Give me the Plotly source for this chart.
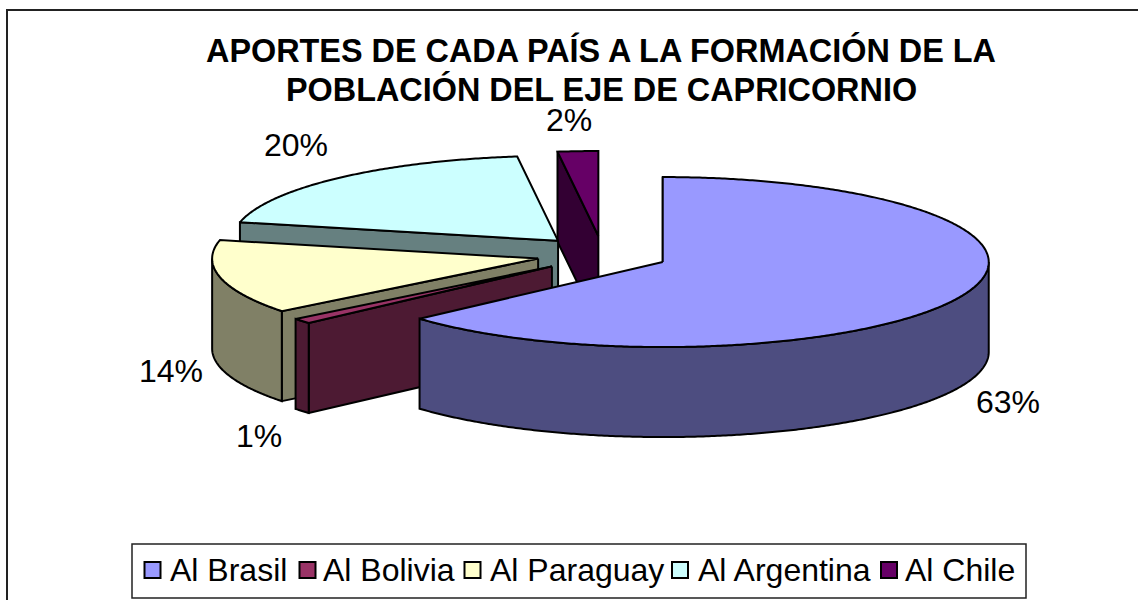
import numpy as np
import plotly.graph_objects as go

title_lines = ["APORTES DE CADA PAÍS A LA FORMACIÓN DE LA", "POBLACIÓN DEL EJE DE CAPRICORNIO"]
categories = ["Al Brasil", "Al Bolivia", "Al Paraguay", "Al Argentina", "Al Chile"]
shares = [63.4, 1.0, 14.1, 19.5, 2.0]
share_labels = ["63%", "1%", "14%", "20%", "2%"]

top_colors = ["#9999FF", "#993366", "#FFFFCC", "#CCFFFF", "#660066"]
wall_colors = ["#4D4D80", "#4D1A33", "#808066", "#668080", "#330033"]

# layout of the 3-D projection (screen pixels)
CX, CY = 602.5, 254.5
RX, RY = 326, 85
DEPTH = 90
EXPLODE_X, EXPLODE_Y = 66, 18.5
LW = 2

label_x = [1008, 259, 171, 296, 569]
label_y = [405, 439, 374, 148, 123]
legend_swatch_x = [152.5, 307.5, 472.5, 680, 889]
legend_text_x = [170, 323, 490, 698, 905]
LEGEND_Y = 570
FS = 32
TITLE_FS = 32.4
title_y = [50, 89]
TITLE_X = 601


def arc(a0, a1, ox, oy, dz=0.0):
    t = np.radians(np.linspace(a0, a1, max(2, int(abs(a1 - a0) * 2) + 2)))
    return ox + RX * np.sin(t), oy - RY * np.cos(t) + dz


def poly(fig, x, y, color, name):
    fig.add_trace(go.Scatter(
        x=list(x) + [x[0]], y=list(y) + [y[0]], mode="lines", fill="toself",
        fillcolor=color, line=dict(color="black", width=LW, simplify=False),
        name=name, showlegend=False, hoverinfo="skip"))


fig = go.Figure()

edges = np.concatenate([[0], np.cumsum(shares)]) / sum(shares) * 360
slices = []
for i, name in enumerate(categories):
    a0, a1 = edges[i], edges[i + 1]
    mid = np.radians((a0 + a1) / 2)
    ox = CX + EXPLODE_X * np.sin(mid)
    oy = CY - EXPLODE_Y * np.cos(mid)
    slices.append((i, name, a0, a1, ox, oy))

# painter's order: farthest slice first
for i, name, a0, a1, ox, oy in reversed(slices):
    sx, sy = arc(a0, a0, ox, oy)
    poly(fig, [ox, sx[0], sx[0], ox], [oy, sy[0], sy[0] + DEPTH, oy + DEPTH], wall_colors[i], name)
    w0, w1 = max(a0, 90), min(a1, 270)
    if w1 > w0:
        tx, ty = arc(w0, w1, ox, oy)
        bx, by = arc(w1, w0, ox, oy, DEPTH)
        poly(fig, np.r_[tx, bx], np.r_[ty, by], wall_colors[i], name)
    tx, ty = arc(a0, a1, ox, oy)
    poly(fig, np.r_[ox, tx], np.r_[oy, ty], top_colors[i], name)

# percentage labels
fig.add_trace(go.Scatter(
    x=label_x, y=label_y, mode="text",
    text=share_labels,
    textfont=dict(family="Liberation Sans", size=FS, color="black"),
    showlegend=False, hoverinfo="skip"))

# legend
fig.add_trace(go.Scatter(
    x=legend_swatch_x, y=[LEGEND_Y] * 5, mode="markers",
    marker=dict(symbol="square", size=16, color=top_colors, line=dict(color="black", width=2)),
    showlegend=False, hoverinfo="skip"))
for x, name in zip(legend_text_x, categories):
    fig.add_annotation(x=x, y=LEGEND_Y, text=name, showarrow=False, xanchor="left", yanchor="middle",
                       xshift=-2, font=dict(family="Liberation Sans", size=FS, color="black"))

# title, one annotation per line to keep the tight line spacing
for y, line in zip(title_y, title_lines):
    fig.add_annotation(x=TITLE_X, y=y, text=f"<b>{line}</b>", showarrow=False, xanchor="center", yanchor="middle",
                       font=dict(family="Liberation Sans", size=TITLE_FS, color="black"))

shapes = [
    dict(type="rect", x0=7, y0=10, x1=1160, y1=640, line=dict(color="#222222", width=2), layer="below"),
    dict(type="rect", x0=132, y0=544, x1=1026, y1=598, fillcolor="white", line=dict(color="#222222", width=1.5), layer="below"),
]

fig.update_layout(
    width=1138, height=600, autosize=False,
    margin=dict(l=0, r=0, t=0, b=0), paper_bgcolor="white", plot_bgcolor="white",
    xaxis=dict(range=[0, 1138], visible=False, fixedrange=True),
    yaxis=dict(range=[600, 0], visible=False, fixedrange=True),
    shapes=shapes, showlegend=False,
)

fig.write_html("out.html", config={"displayModeBar": False},
               post_script="document.body.style.margin='0';")
